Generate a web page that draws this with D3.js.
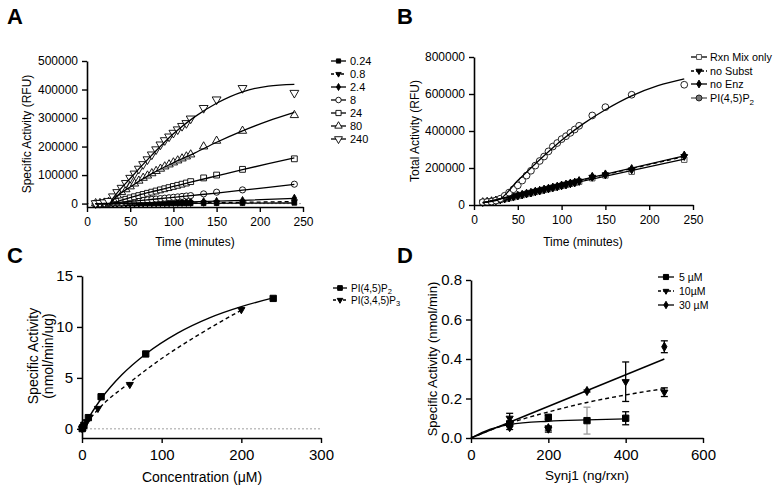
<!DOCTYPE html>
<html><head><meta charset="utf-8">
<script src="https://cdn.jsdelivr.net/npm/d3@7"></script>
<style>body{margin:0;background:#fff}svg{display:block;font-family:"Liberation Sans",Arial,sans-serif}</style>
</head><body><svg id="c" width="780" height="490"></svg>
<script>
// ---------- Panel A data ----------
const times = [10,15,20,25,30,35,40,45,50,55,60,65,70,75,80,85,90,95,100,105,110,115,120,135,150,180,240];
const aLabels = ["0.24","0.8","2.4","8","24","80","240"];
const a024 = [0,0,0,100,200,200,300,300,400,400,500,500,600,600,700,700,800,800,900,900,1000,1000,1100,1300,1500,1800,2500];
const a08  = [0,0,100,200,300,400,500,600,700,800,900,1000,1100,1200,1300,1400,1500,1600,1700,1800,1900,2000,2100,2800,3500,5000,7500];
const a24  = [0,0,100,300,500,800,1000,1300,1600,2000,2300,2600,3000,3300,3600,4000,4300,4600,5000,5300,5600,6000,6500,7000,8000,11000,19000];
const a8   = [200,400,600,1000,2000,3000,4000,5500,7000,8500,10000,11500,13000,14500,16000,17500,19000,20500,22000,23500,25000,26500,28000,34000,40000,48000,68000];
const a24b = [500,1000,1500,3000,5000,8000,12000,15000,20000,24000,28000,32000,36000,40000,44000,48000,52000,56000,60000,64000,68000,72000,77000,90000,100000,120000,157000];
const a80  = [1000,1500,3000,6000,15000,28000,40000,50000,60000,70000,80000,90000,98000,106000,114000,122000,130000,137000,144000,151000,158000,165000,172000,200000,220000,255000,310000];
const a240 = [1000,2000,4000,9000,25000,40000,55000,72000,90000,105000,122000,138000,155000,172000,190000,207000,222000,235000,248000,260000,272000,282000,298000,335000,365000,405000,388000];
const fitA024 = [[10,0],[240,2000]];
const fitA08  = [[10,0],[120,2500],[240,7000]];
const fitA24  = [[10,0],[60,2000],[120,6000],[180,11500],[240,18000]];
const fitA8   = [[10,0],[25,0],[40,5000],[60,10500],[80,16000],[100,22000],[120,28000],[150,37000],[180,47000],[210,57000],[240,67000]];
const fitA24b = [[10,0],[27,0],[40,12000],[60,30000],[80,45000],[100,60000],[120,75000],[150,97000],[180,119000],[210,140000],[240,160000]];
const fitA80  = [[10,0],[27,0],[30,12000],[50,58000],[75,105000],[100,143000],[125,178000],[150,215000],[180,255000],[210,290000],[240,320000]];
const fitA240 = [[10,0],[26,0],[30,18000],[50,88000],[75,170000],[100,245000],[125,305000],[150,352000],[180,392000],[210,412000],[240,418000]];
const aXTicks = [0,50,100,150,200,250];
const aYTicks = [0,100000,200000,300000,400000,500000];

// ---------- Panel B data ----------
const bRxn     = [15000,17000,20000,24000,28000,33000,38000,43000,49000,54000,60000,65000,71000,76000,82000,87000,93000,98000,104000,109000,115000,120000,126000,145000,160000,180000,245000];
const bNoSubst = [15000,17000,21000,25000,29000,34000,39000,44000,50000,55000,61000,66000,72000,77000,83000,88000,94000,99000,105000,110000,116000,121000,128000,150000,163000,190000,262000];
const bNoEnz   = [16000,18000,21000,25000,30000,35000,40000,45000,51000,56000,62000,67000,73000,78000,84000,89000,95000,100000,106000,111000,117000,122000,130000,153000,166000,195000,268000];
const bPI45    = [15000,16000,18000,24000,34000,50000,67000,85000,106000,132000,159000,185000,213000,238000,262000,290000,316000,335000,356000,372000,390000,408000,428000,484000,529000,596000,650000];
const fitBRxn     = [[10,12000],[240,248000]];
const fitBNoSubst = [[10,12000],[240,262000]];
const fitBNoEnz   = [[10,12000],[240,266000]];
const fitBPI45    = [[10,14000],[28,28000],[50,132000],[75,245000],[100,350000],[125,440000],[150,515000],[180,590000],[210,645000],[240,682000]];
const bXTicks = [0,50,100,150,200,250];
const bYTicks = [0,200000,400000,600000,800000];

// ---------- Panel C data ----------
const c45x  = [0.24,0.8,2.4,8,24,80,240];
const c45y  = [0.02,0.1,0.35,1.1,3.15,7.35,12.8];
const c345x = [0.2,0.6,2,6,20,60,200];
const c345y = [0.01,0.05,0.25,0.7,2.0,4.35,11.7];
const fitC45  = [[0,0],[10,1.3],[25,3.05],[50,5.3],[80,7.35],[120,9.4],[160,10.9],[200,12.0],[240,12.85]];
const fitC345 = [[0,0],[20,1.9],[60,4.55],[100,6.9],[150,9.4],[200,11.65]];
const cXTicks = [0,100,200,300];
const cYTicks = [0,5,10,15];

// ---------- Panel D data ----------
const d5x  = [100,200,300,400];
const d5y  = [0.072,0.105,0.088,0.10];
const d5e  = [0.01,0.01,0.068,0.033];
const d10x = [100,200,400,500];
const d10y = [0.10,0.045,0.285,0.232];
const d10e = [0.025,0.015,0.10,0.022];
const d30x = [100,200,300,500];
const d30y = [0.055,0.05,0.238,0.462];
const d30e = [0.012,0.01,0.005,0.03];
const fitD5  = [[0,0],[50,0.045],[100,0.068],[200,0.085],[300,0.092],[400,0.097]];
const fitD10 = [[0,0],[50,0.04],[100,0.075],[200,0.132],[300,0.18],[400,0.218],[500,0.25]];
const fitD30 = [[0,0],[500,0.40]];
const dXTicks = [0,200,400,600];
const dYTicks = [0,0.2,0.4,0.6,0.8];

// ---------- drawing ----------
const svg = d3.select("#c");
const line = (x,y,curve) => d3.line().x(d=>x(d[0])).y(d=>y(d[1])).curve(curve||d3.curveMonotoneX);

function sym(g, type, x, y, size, fill, stroke, sw) {
  const map = {square:d3.symbolSquare, circle:d3.symbolCircle, diamond:d3.symbolDiamond, up:d3.symbolTriangle, down:d3.symbolTriangle};
  g.append("path").attr("d", d3.symbol().type(map[type]).size(size)())
    .attr("transform", `translate(${x},${y})` + (type==="down" ? " rotate(180)" : ""))
    .attr("fill", fill).attr("stroke", stroke||"#000").attr("stroke-width", sw||1);
}

function axes(g, x, y, xt, yt, fs, yfmt, x0px, y0px) {
  const ax = g.append("g").attr("transform", `translate(0,${y0px})`)
    .call(d3.axisBottom(x).tickValues(xt).tickSize(5).tickSizeOuter(0).tickFormat(d3.format("d")));
  const ay = g.append("g").attr("transform", `translate(${x0px},0)`)
    .call(d3.axisLeft(y).tickValues(yt).tickSize(5).tickSizeOuter(0).tickFormat(yfmt));
  [ax, ay].forEach(a => {
    a.selectAll("path").attr("stroke","#000").attr("stroke-width",1.6);
    a.selectAll("line").attr("stroke","#000").attr("stroke-width",1.4);
    a.selectAll("text").attr("font-size",fs).attr("fill","#000").attr("font-family","Liberation Sans, Arial, sans-serif");
  });
  ax.selectAll("text").attr("dy","0.9em");
  ay.selectAll("text").attr("dx","-1");
}

function panelLetter(t, x, y) {
  svg.append("text").attr("x",x).attr("y",y).attr("font-size",22).attr("font-weight","bold").text(t);
}

// ===== Panel A =====
(function(){
  const g = svg.append("g");
  const x = d3.scaleLinear().domain([0,250]).range([87,303]);
  const y = d3.scaleLinear().domain([-12000,500000]).range([207,61]);
  g.append("line").attr("x1",87).attr("x2",302).attr("y1",y(0)).attr("y2",y(0))
    .attr("stroke","#888").attr("stroke-dasharray","2,2").attr("stroke-width",0.8);
  const series = [
    {v:a024, f:fitA024, t:"square", fill:"#000", s:22, dash:null},
    {v:a08,  f:fitA08,  t:"down",   fill:"#000", s:16, dash:"4,3"},
    {v:a24,  f:fitA24,  t:"diamond",fill:"#000", s:18, dash:null},
    {v:a8,   f:fitA8,   t:"circle", fill:"#fff", s:30, dash:null},
    {v:a24b, f:fitA24b, t:"square", fill:"#fff", s:34, dash:null},
    {v:a80,  f:fitA80,  t:"up",     fill:"#fff", s:30, dash:null},
    {v:a240, f:fitA240, t:"down",   fill:"#fff", s:34, dash:null}
  ];
  series.forEach(s => {
    times.forEach((t,i) => sym(g, s.t, x(t), y(s.v[i]), s.s, s.fill, "#000", 0.9));
  });
  series.forEach(s => {
    g.append("path").attr("d", line(x,y)(s.f)).attr("fill","none").attr("stroke","#000")
      .attr("stroke-width",1.3).attr("stroke-dasharray", s.dash);
  });
  axes(g, x, y, aXTicks, aYTicks, 12, d3.format("d"), 87, 207);
  g.append("text").attr("x",195).attr("y",246).attr("text-anchor","middle").attr("font-size",12).text("Time (minutes)");
  g.append("text").attr("transform","translate(31,134) rotate(-90)").attr("text-anchor","middle").attr("font-size",12).text("Specific Activity (RFU)");
  // legend
  series.forEach((s,i) => {
    const ly = 61 + i*13;
    g.append("line").attr("x1",331).attr("x2",346).attr("y1",ly).attr("y2",ly).attr("stroke","#000").attr("stroke-width",1.3).attr("stroke-dasharray", s.dash ? "3,2" : null);
    sym(g, s.t, 338.5, ly, s.s*0.8, s.fill, "#000", 0.9);
    g.append("text").attr("x",350).attr("y",ly+4).attr("font-size",11).text(aLabels[i]);
  });
  panelLetter("A", 7, 24);
})();

// ===== Panel B =====
(function(){
  const g = svg.append("g");
  const x = d3.scaleLinear().domain([0,250]).range([474,693]);
  const y = d3.scaleLinear().domain([0,800000]).range([205,57]);
  const series = [
    {v:bRxn,     f:fitBRxn,     t:"square", fill:"#fff", st:"#555", s:30, dash:null, lab:"Rxn Mix only"},
    {v:bNoSubst, f:fitBNoSubst, t:"down",   fill:"#000", st:"#000", s:20, dash:"4,3", lab:"no Subst"},
    {v:bNoEnz,   f:fitBNoEnz,   t:"diamond",fill:"#000", st:"#000", s:22, dash:null, lab:"no Enz"},
    {v:bPI45,    f:fitBPI45,    t:"circle", fill:"#fff", st:"#222", s:36, dash:null, lab:"PI(4,5)P"}
  ];
  series.forEach(s => {
    times.forEach((t,i) => sym(g, s.t, x(t), y(s.v[i]), s.s, s.fill, s.st, 1));
  });
  series.forEach(s => {
    g.append("path").attr("d", line(x,y)(s.f)).attr("fill","none").attr("stroke","#000")
      .attr("stroke-width",1.3).attr("stroke-dasharray", s.dash);
  });
  axes(g, x, y, bXTicks, bYTicks, 12, d3.format("d"), 474, 205);
  g.append("text").attr("x",583).attr("y",246).attr("text-anchor","middle").attr("font-size",12).text("Time (minutes)");
  g.append("text").attr("transform","translate(419,131) rotate(-90)").attr("text-anchor","middle").attr("font-size",12).text("Total Activity (RFU)");
  const lys = [57,71,84,98];
  series.forEach((s,i) => {
    const ly = lys[i];
    g.append("line").attr("x1",691).attr("x2",707).attr("y1",ly).attr("y2",ly).attr("stroke", i===3 ? "#555" : "#000").attr("stroke-width",1.3).attr("stroke-dasharray", s.dash ? "3,2" : null);
    sym(g, s.t, 699, ly, i===3 ? 28 : s.s*0.8, i===3 ? "#777" : s.fill, s.st, 1);
    const tx = g.append("text").attr("x",710).attr("y",ly+4).attr("font-size",10.8).text(s.lab);
    if (i===3) tx.append("tspan").attr("font-size",8).attr("dy",3).text("2");
  });
  panelLetter("B", 397, 24);
})();

// ===== Panel C =====
(function(){
  const g = svg.append("g");
  const x = d3.scaleLinear().domain([0,300]).range([82,321]);
  const y = d3.scaleLinear().domain([-0.9,15]).range([438,276]);
  g.append("line").attr("x1",82).attr("x2",321).attr("y1",y(0)).attr("y2",y(0))
    .attr("stroke","#888").attr("stroke-dasharray","2,2").attr("stroke-width",0.8);
  g.append("path").attr("d", line(x,y)(fitC45)).attr("fill","none").attr("stroke","#000").attr("stroke-width",1.4);
  g.append("path").attr("d", line(x,y)(fitC345)).attr("fill","none").attr("stroke","#000").attr("stroke-width",1.4).attr("stroke-dasharray","4,3");
  c345x.forEach((v,i) => sym(g, "down", x(v), y(c345y[i]), 22, "#000"));
  c45x.forEach((v,i) => sym(g, "square", x(v), y(c45y[i]), 40, "#000"));
  axes(g, x, y, cXTicks, cYTicks, 15, d3.format("d"), 82, 438);
  g.append("text").attr("x",202).attr("y",482).attr("text-anchor","middle").attr("font-size",14).text("Concentration (μM)");
  const yt = g.append("text").attr("transform","translate(0,356) rotate(-90)").attr("text-anchor","middle").attr("font-size",14);
  yt.append("tspan").attr("x",0).attr("y",38).text("Specific Activity");
  yt.append("tspan").attr("x",0).attr("y",53).text("(nmol/min/ug)");
  const leg = [{t:"square",f:"#000",s:22,d:null,l:"PI(4,5)P",sub:"2"},{t:"down",f:"#000",s:14,d:"3,2",l:"PI(3,4,5)P",sub:"3"}];
  leg.forEach((s,i) => {
    const ly = 288 + i*12;
    g.append("line").attr("x1",333).attr("x2",347).attr("y1",ly).attr("y2",ly).attr("stroke","#000").attr("stroke-width",1.3).attr("stroke-dasharray",s.d);
    sym(g, s.t, 340, ly, s.s, s.f);
    const tx = g.append("text").attr("x",351).attr("y",ly+3.5).attr("font-size",10).text(s.l);
    tx.append("tspan").attr("font-size",7.5).attr("dy",2.5).text(s.sub);
  });
  panelLetter("C", 7, 263);
})();

// ===== Panel D =====
(function(){
  const g = svg.append("g");
  const x = d3.scaleLinear().domain([0,600]).range([471,703]);
  const y = d3.scaleLinear().domain([0,0.8]).range([438,280]);
  g.append("path").attr("d", line(x,y)(fitD30)).attr("fill","none").attr("stroke","#000").attr("stroke-width",1.4);
  g.append("path").attr("d", line(x,y)(fitD10)).attr("fill","none").attr("stroke","#000").attr("stroke-width",1.4).attr("stroke-dasharray","4,3");
  g.append("path").attr("d", line(x,y)(fitD5)).attr("fill","none").attr("stroke","#000").attr("stroke-width",1.4);
  const sets = [
    {x:d5x, y:d5y, e:d5e, t:"square", s:40, col:i=> i===2 ? "#999" : "#000"},
    {x:d10x, y:d10y, e:d10e, t:"down", s:22, col:()=>"#000"},
    {x:d30x, y:d30y, e:d30e, t:"diamond", s:24, col:()=>"#000"}
  ];
  sets.forEach(s => {
    s.x.forEach((v,i) => {
      const cx = x(v), y1 = y(s.y[i]-s.e[i]), y2 = y(s.y[i]+s.e[i]);
      const c = s.col(i);
      g.append("line").attr("x1",cx).attr("x2",cx).attr("y1",y1).attr("y2",y2).attr("stroke",c).attr("stroke-width",1.3);
      [y1,y2].forEach(yy => g.append("line").attr("x1",cx-3.5).attr("x2",cx+3.5).attr("y1",yy).attr("y2",yy).attr("stroke",c).attr("stroke-width",1.3));
    });
  });
  sets.forEach(s => s.x.forEach((v,i) => sym(g, s.t, x(v), y(s.y[i]), s.s, "#000")));
  axes(g, x, y, dXTicks, dYTicks, 15, d3.format(".1f"), 471, 438);
  g.append("text").attr("x",587).attr("y",480).attr("text-anchor","middle").attr("font-size",13.5).text("Synj1 (ng/rxn)");
  g.append("text").attr("transform","translate(437,359) rotate(-90)").attr("text-anchor","middle").attr("font-size",13).text("Specific Activity (nmol/min)");
  const leg = [{t:"square",s:26,d:null,l:"5 µM"},{t:"down",s:14,d:"3,2",l:"10µM"},{t:"diamond",s:16,d:null,l:"30 µM"}];
  leg.forEach((s,i) => {
    const ly = 277 + i*14;
    g.append("line").attr("x1",658).attr("x2",674).attr("y1",ly).attr("y2",ly).attr("stroke","#000").attr("stroke-width",1.3).attr("stroke-dasharray",s.d);
    sym(g, s.t, 666, ly, s.s, "#000");
    g.append("text").attr("x",679).attr("y",ly+4).attr("font-size",10.5).text(s.l);
  });
  panelLetter("D", 397, 263);
})();
</script></body></html>
